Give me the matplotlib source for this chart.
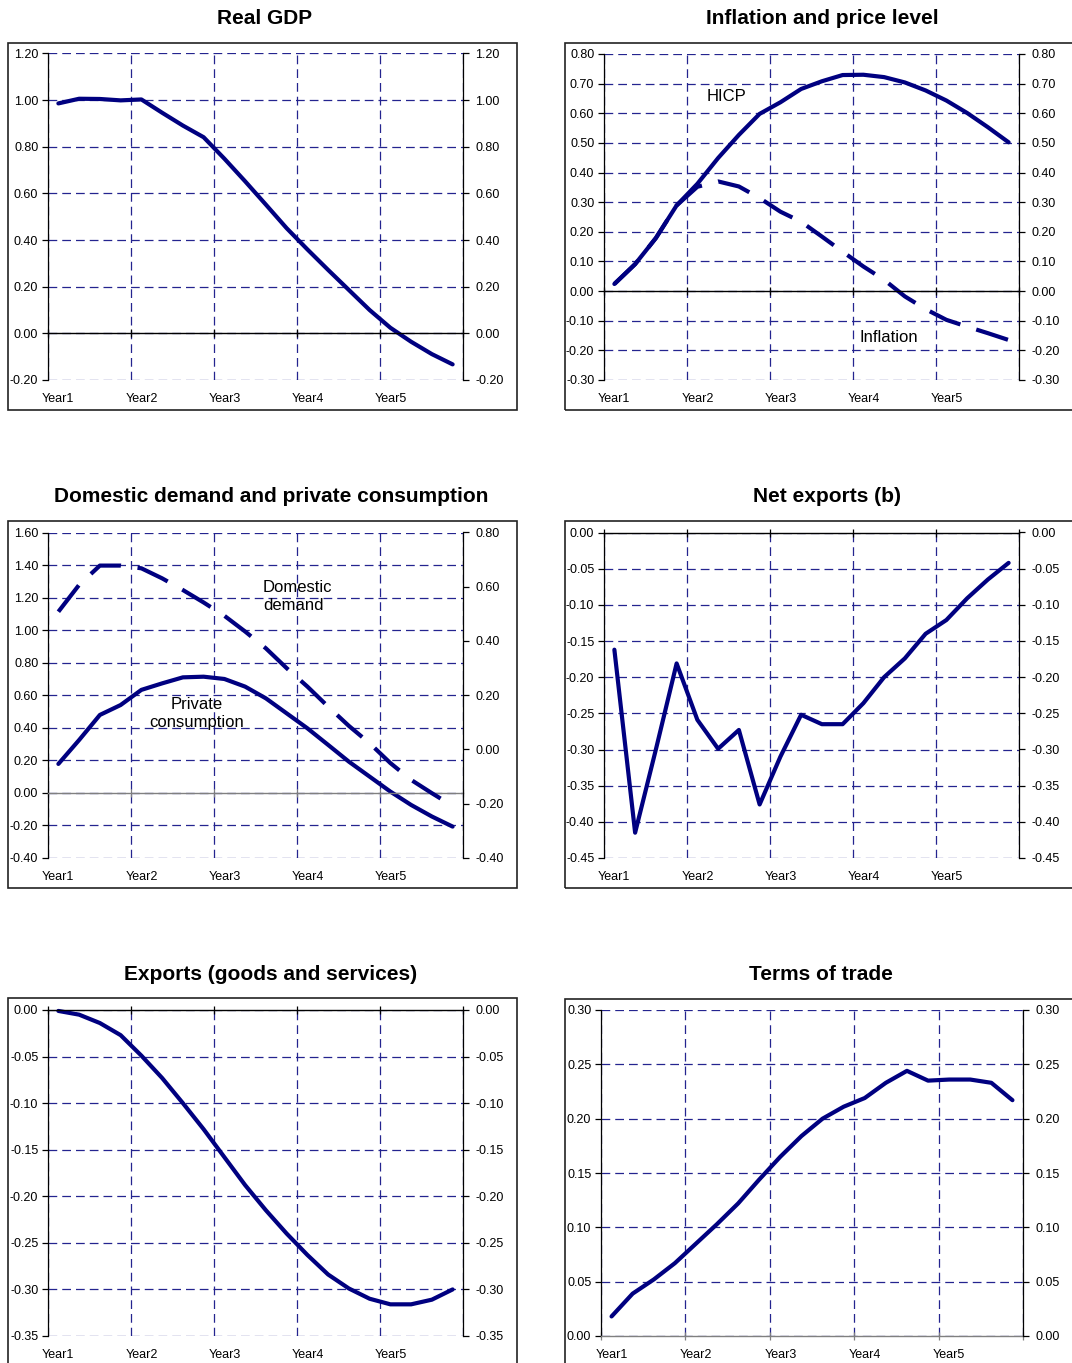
import numpy as np
import matplotlib
matplotlib.use('Agg')
import matplotlib.pyplot as plt
import matplotlib.transforms as mtransforms
from matplotlib.patches import Rectangle
from matplotlib.ticker import FormatStrFormatter

plt.rcParams['font.family'] = ['Liberation Sans', 'DejaVu Sans']
plt.rcParams['axes.unicode_minus'] = False

# quarterly deviations, 5 years x 4 quarters
years = ['Year1', 'Year2', 'Year3', 'Year4', 'Year5']

real_gdp = [0.986, 1.006, 1.005, 0.999, 1.003, 0.946, 0.891, 0.841, 0.749, 0.652,
            0.552, 0.451, 0.360, 0.272, 0.186, 0.100, 0.024, -0.036, -0.089, -0.133]

hicp = [0.024, 0.091, 0.179, 0.289, 0.362, 0.449, 0.527, 0.598, 0.637, 0.682,
        0.708, 0.729, 0.730, 0.722, 0.704, 0.677, 0.643, 0.601, 0.553, 0.502]
inflation = [0.024, 0.091, 0.179, 0.289, 0.352, 0.370, 0.353, 0.314, 0.268, 0.234,
             0.184, 0.133, 0.083, 0.038, -0.018, -0.061, -0.097, -0.120, -0.142, -0.165]

private_cons = [0.178, 0.325, 0.479, 0.540, 0.633, 0.673, 0.710, 0.714, 0.700, 0.653,
                0.581, 0.489, 0.397, 0.295, 0.192, 0.100, 0.008, -0.074, -0.145, -0.207]
domestic_demand = [0.508, 0.607, 0.678, 0.678, 0.668, 0.631, 0.588, 0.542, 0.493, 0.435,
                   0.373, 0.300, 0.232, 0.158, 0.087, 0.023, -0.050, -0.112, -0.161, -0.208]

net_exports = [-0.162, -0.415, -0.300, -0.181, -0.259, -0.299, -0.273, -0.376, -0.310, -0.252,
               -0.265, -0.265, -0.236, -0.200, -0.174, -0.140, -0.121, -0.091, -0.065, -0.042]

exports = [-0.001, -0.005, -0.014, -0.027, -0.049, -0.073, -0.100, -0.128, -0.158, -0.188,
           -0.215, -0.240, -0.263, -0.284, -0.299, -0.310, -0.316, -0.316, -0.311, -0.300]

terms_of_trade = [0.018, 0.039, 0.052, 0.067, 0.085, 0.103, 0.122, 0.144, 0.165, 0.184,
                  0.200, 0.211, 0.219, 0.233, 0.244, 0.235, 0.236, 0.236, 0.233, 0.217]

W, H = 1072, 1363
NAVY = '#000080'
GRID = '#24248f'

fig = plt.figure(figsize=(W / 100, H / 100), dpi=100)


def make_ticks(lo, hi, step):
    n = int(round((hi - lo) / step))
    return [round(lo + k * step, 2) for k in range(n + 1)]


def panel(plot_px, box_px, title, title_px, ylim, ystep, series,
          zero_color='black', right=None, notes=()):
    x0, y0, x1, y1 = plot_px
    ax = fig.add_axes([x0 / W, 1 - y1 / H, (x1 - x0) / W, (y1 - y0) / H])

    # frame round the panel
    bx0, by0, bx1, by1 = box_px
    fig.patches.append(Rectangle((bx0 / W, 1 - by1 / H), (bx1 - bx0) / W, (by1 - by0) / H,
                                 transform=fig.transFigure, fill=False,
                                 edgecolor='#222222', lw=1.2))
    fig.text(title_px[0] / W, 1 - title_px[1] / H, title, ha='center', va='center',
             fontsize=15, fontweight='bold')

    n = len(series[0][0])
    x = np.arange(n)
    ax.set_xlim(-0.5, n - 0.5)
    ax.set_ylim(*ylim)
    yt = make_ticks(ylim[0], ylim[1], ystep)
    ax.set_yticks(yt)
    ax.yaxis.set_major_formatter(FormatStrFormatter('%.2f'))
    ax.set_xticks(np.arange(-0.5, n, 4))
    ax.tick_params(axis='x', direction='inout', length=6, width=0.9,
                   color=zero_color, labelbottom=False)
    ax.tick_params(axis='y', direction='out', length=4, width=0.9,
                   labelsize=9, pad=3)
    ax.grid(True, color=GRID, lw=0.9, linestyle=(0, (7, 4)))

    for side in ['top', 'right']:
        ax.spines[side].set_visible(False)
    ax.spines['left'].set_linewidth(0.9)
    ax.spines['bottom'].set_position(('data', 0))
    ax.spines['bottom'].set_color(zero_color)
    ax.spines['bottom'].set_linewidth(1.0)

    ax2 = ax.twinx()
    if right is None:
        ax2.set_ylim(*ylim)
        ax2.set_yticks(yt)
    else:
        ax2.set_ylim(*right[0])
        ax2.set_yticks(make_ticks(right[0][0], right[0][1], right[1]))
    ax2.yaxis.set_major_formatter(FormatStrFormatter('%.2f'))
    ax2.tick_params(axis='y', direction='out', length=4, width=0.9,
                    labelsize=9, pad=5)
    for side in ['top', 'bottom', 'left']:
        ax2.spines[side].set_visible(False)
    ax2.spines['right'].set_linewidth(0.9)

    for vals, ls, on_right in series:
        target = ax2 if on_right else ax
        target.plot(x, vals, color=NAVY, lw=3.0, linestyle=ls,
                    solid_capstyle='round', dash_capstyle='butt', clip_on=False)

    trans = mtransforms.blended_transform_factory(ax.transData, ax.transAxes)
    for i, lab in enumerate(years):
        ax.annotate(lab, xy=(4 * i, 0), xycoords=trans, xytext=(0, -14),
                    textcoords='offset points', ha='center', va='center', fontsize=9)

    for txt, xy, ha in notes:
        ax.text(xy[0], xy[1], txt, ha=ha, va='center', fontsize=12, linespacing=1.25)
    return ax


dash = (0, (8, 4))

panel((48, 53.5, 463, 380), (8, 43, 517, 410), 'Real GDP', (265, 18),
      (-0.2, 1.2), 0.2, [(real_gdp, '-', False)])

panel((604, 54, 1019, 380), (565, 43, 1090, 410), 'Inflation and price level', (822, 18),
      (-0.3, 0.8), 0.1, [(hicp, '-', False), (inflation, dash, False)],
      notes=[('HICP', (5.38, 0.655), 'center'), ('Inflation', (13.24, -0.155), 'center')])

panel((48, 532.5, 463, 858), (8, 521, 517, 888), 'Domestic demand and private consumption',
      (271, 496), (-0.4, 1.6), 0.2,
      [(private_cons, '-', False), (domestic_demand, dash, True)],
      zero_color='#808080', right=((-0.4, 0.8), 0.2),
      notes=[('Domestic\ndemand', (9.86, 1.206), 'left'),
             ('Private\nconsumption', (6.68, 0.486), 'center')])

panel((604, 532.5, 1019, 858), (565, 521, 1090, 888), 'Net exports (b)', (827, 496),
      (-0.45, 0.0), 0.05, [(net_exports, '-', False)])

panel((48, 1010, 463, 1336), (8, 998, 517, 1375), 'Exports (goods and services)', (271, 974),
      (-0.35, 0.0), 0.05, [(exports, '-', False)])

panel((601, 1010, 1023, 1336), (565, 999, 1090, 1375), 'Terms of trade', (821, 974),
      (0.0, 0.3), 0.05, [(terms_of_trade, '-', False)], zero_color='#808080')

fig.savefig('out.png', dpi=100)
